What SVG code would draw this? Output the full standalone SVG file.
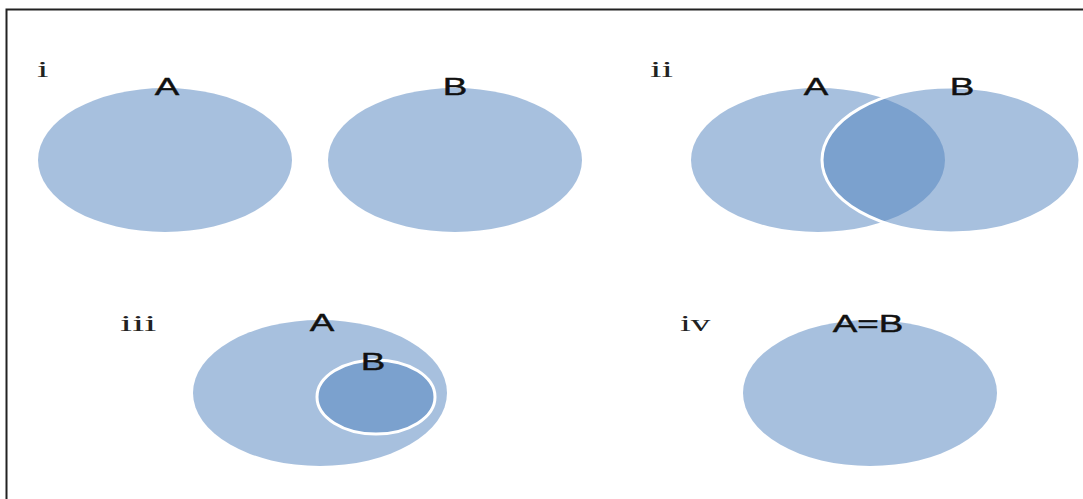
<svg xmlns="http://www.w3.org/2000/svg" width="1083" height="499" viewBox="0 0 1083 499">
<style>
.set{fill:#4f81bd;fill-opacity:0.5}
.sub{fill:#4f81bd;fill-opacity:0.5;stroke:#ffffff;stroke-width:3}
.lbl{font-family:"Liberation Sans",Arial,sans-serif;font-size:23px;fill:#111;stroke:#111;stroke-width:0.4;text-anchor:middle}
.num{font-family:"Liberation Serif","Times New Roman",serif;font-size:23px;fill:#222}
.frame{stroke:#222;stroke-width:2;fill:none}
</style>
<rect width="1083" height="499" fill="#ffffff"/>
<g id="frame">
<path class="frame" d="M6.5,499 V9.5 H1083"/>
</g>
<g id="panel-i">
<text class="num" transform="translate(37,77) scale(1.8,1)">i</text>
<g id="i-A"><ellipse class="set" cx="165" cy="160" rx="127" ry="72"/><text class="lbl" transform="translate(167,95) scale(1.6,1)">A</text></g>
<g id="i-B"><ellipse class="set" cx="455" cy="160" rx="127" ry="72"/><text class="lbl" transform="translate(455,95) scale(1.6,1)">B</text></g>
</g>
<g id="panel-ii">
<text class="num" transform="translate(650,77) scale(1.8,1)">ii</text>
<g id="ii-A"><ellipse class="set" cx="818" cy="160" rx="127" ry="72"/><text class="lbl" transform="translate(816,95) scale(1.6,1)">A</text></g>
<g id="ii-B"><ellipse class="sub" cx="951" cy="160" rx="129" ry="73"/><text class="lbl" transform="translate(962,95) scale(1.6,1)">B</text></g>
</g>
<g id="panel-iii">
<text class="num" transform="translate(120,331) scale(1.9,1)">iii</text>
<g id="iii-A"><ellipse class="set" cx="320" cy="393" rx="127" ry="73"/><text class="lbl" transform="translate(322,331) scale(1.6,1)">A</text></g>
<g id="iii-B"><ellipse class="sub" cx="376" cy="397" rx="59" ry="37"/><text class="lbl" transform="translate(373,370) scale(1.6,1)">B</text></g>
</g>
<g id="panel-iv">
<text class="num" transform="translate(680,331) scale(1.7,1)">iv</text>
<g id="iv-AB"><ellipse class="set" cx="870" cy="393" rx="127" ry="73"/><text class="lbl" transform="translate(868,332) scale(1.6,1)">A=B</text></g>
</g>
<g id="connectors"/>
</svg>
